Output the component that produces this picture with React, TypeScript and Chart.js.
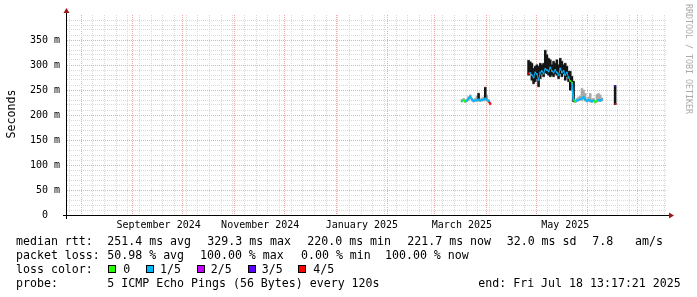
import React, { useEffect, useRef } from "react";
import { Chart, registerables } from "chart.js";

Chart.register(...registerables);

// ---------- time frame ----------
const DAY_MS = 86400000;
const END_TIME = Date.UTC(2025, 6, 18, 13, 17, 21);
const SPAN_DAYS = 360;
const START_TIME = END_TIME - SPAN_DAYS * DAY_MS;

// ---------- data ----------
const sampleTimes: string[] = [
  // March / April 2025
  "2025-03-17", "2025-03-18", "2025-03-19", "2025-03-20", "2025-03-21", "2025-03-22",
  "2025-03-23", "2025-03-24", "2025-03-25", "2025-03-26", "2025-03-27", "2025-03-28",
  "2025-03-29", "2025-03-30", "2025-03-31", "2025-04-01", "2025-04-02", "2025-04-03",
  // late April - May
  "2025-04-26", "2025-04-27", "2025-04-28", "2025-04-29", "2025-04-30", "2025-05-01",
  "2025-05-02", "2025-05-03", "2025-05-04", "2025-05-05", "2025-05-06", "2025-05-07",
  "2025-05-08", "2025-05-09", "2025-05-10", "2025-05-11", "2025-05-12", "2025-05-13",
  "2025-05-14", "2025-05-15", "2025-05-16", "2025-05-17", "2025-05-18", "2025-05-19",
  "2025-05-20", "2025-05-21", "2025-05-22", "2025-05-23",
  // late May - June
  "2025-05-24", "2025-05-25", "2025-05-26", "2025-05-27", "2025-05-28", "2025-05-29",
  "2025-05-30", "2025-05-31", "2025-06-01", "2025-06-02", "2025-06-03", "2025-06-04",
  "2025-06-05", "2025-06-06", "2025-06-07", "2025-06-08", "2025-06-09",
  // short burst
  "2025-06-17T10:00", "2025-06-17T14:00",
];

// median rtt (ms)
const medianMs: number[] = [
  228, 230, 227, 229, 233, 237, 231, 228, 229, 230, 231, 229, 230, 231, 233, 231, 228, 222,
  283, 284, 280, 275, 285, 282, 270, 285, 288, 283, 292, 290, 287, 295, 288, 285, 290, 285,
  280, 293, 285, 288, 280, 285, 275, 268, 265, 230,
  227, 229, 230, 232, 233, 236, 231, 228, 230, 229, 227, 229, 226, 228, 230, 229, 231,
  258, 222,
];

// packet loss (out of 5 pings)
const lossIndex: number[] = [
  1, 0, 0, 1, 1, 1, 1, 1, 1, 1, 1, 1, 1, 1, 1, 1, 1, 4,
  4, 1, 1, 1, 1, 1, 1, 1, 1, 1, 1, 1, 1, 1, 1, 1, 1, 1,
  1, 1, 1, 1, 1, 1, 1, 0, 0, 1,
  0, 1, 1, 1, 1, 1, 1, 1, 1, 1, 1, 1, 0, 0, 1, 1, 1,
  3, 4,
];

// smoke: full ping spread (ms)
const smokeLowMs: number[] = [
  226, 228, 225, 227, 229, 233, 228, 226, 227, 227, 228, 227, 228, 228, 229, 228, 225, 221,
  279, 282, 269, 262, 266, 272, 256, 272, 282, 276, 284, 282, 279, 276, 279, 276, 282, 279,
  272, 282, 276, 282, 269, 276, 266, 249, 256, 226,
  225, 227, 228, 229, 229, 231, 228, 226, 227, 226, 225, 227, 224, 226, 227, 227, 228,
  221, 221,
];
const smokeHighMs: number[] = [
  231, 233, 230, 232, 237, 240, 234, 231, 233, 238, 244, 232, 234, 236, 256, 240, 231, 226,
  310, 307, 304, 294, 298, 301, 298, 304, 301, 304, 330, 321, 314, 311, 301, 308, 304, 311,
  301, 314, 308, 301, 304, 298, 288, 288, 278, 268,
  230, 233, 236, 238, 253, 250, 243, 232, 236, 243, 232, 233, 229, 241, 243, 240, 234,
  259, 224,
];
// smoke: dense core of the pings (ms), null where there is none
const coreLowMs: (number | null)[] = [
  null, null, null, null, null, null, null, null, null, null, 230, null, null, null, 232, null, null, null,
  280, 283, 270, 263, 267, 273, 257, 273, 283, 277, 285, 283, 280, 277, 280, 277, 283, 280,
  273, 283, 277, 283, 270, 277, 267, 250, 257, 227,
  null, null, null, null, null, null, null, null, null, null, null, null, null, null, null, null, null,
  221, null,
];
const coreHighMs: (number | null)[] = [
  null, null, null, null, null, null, null, null, null, null, 243, null, null, null, 255, null, null, null,
  309, 306, 303, 293, 297, 300, 297, 303, 300, 303, 329, 320, 313, 310, 300, 307, 303, 310,
  300, 313, 307, 300, 303, 297, 287, 287, 277, 267,
  null, null, null, null, null, null, null, null, null, null, null, null, null, null, null, null, null,
  259, null,
];

const lossLabels: string[] = ["0", "1/5", "2/5", "3/5", "4/5"];
const lossColors: string[] = ["#26ff00", "#00b8ff", "#c800ff", "#5e00ff", "#ff0000"];

const yLabelValues: number[] = [0, 50, 100, 150, 200, 250, 300, 350];
const yLabelTexts: string[] = ["0  ", "50 m", "100 m", "150 m", "200 m", "250 m", "300 m", "350 m"];

const xLabelTimes: string[] = ["2024-09-16", "2024-11-16", "2025-01-16", "2025-03-17", "2025-05-18"];
const xLabelTexts: string[] = ["September 2024", "November 2024", "January 2025", "March 2025", "May 2025"];

const medianStats: string[] = ["251.4 ms avg", "329.3 ms max", "220.0 ms min", "221.7 ms now", "32.0 ms sd"];
const amsValue = "7.8";
const lossStats: string[] = ["50.98 % avg", "100.00 % max", "0.00 % min", "100.00 % now"];
const probeText = "5 ICMP Echo Pings (56 Bytes) every 120s";
const endText = "end: Fri Jul 18 13:17:21 2025";

// ---------- helpers ----------
const toDay = (s: string) => {
  const iso = s.length === 10 ? `${s}T12:00:00Z` : `${s}:00Z`;
  return (Date.parse(iso) - START_TIME) / DAY_MS;
};

const MONO = "'DejaVu Sans Mono', monospace";
const MAJOR_GRID = "#eeaaaa";
const MINOR_GRID = "#d9d9d9";
const ARROW = "#9a1a1a";

function buildXTicks() {
  const kinds = new Map<number, string>();
  let t = Date.UTC(2024, 6, 23);
  while (new Date(t).getUTCDay() !== 4) t += DAY_MS;
  for (; t < END_TIME; t += 7 * DAY_MS) {
    const d = (t - START_TIME) / DAY_MS;
    if (d > 0) kinds.set(d, "minor");
  }
  let y = 2024, m = 7;
  for (;;) {
    const mt = Date.UTC(y, m, 1);
    if (mt >= END_TIME) break;
    kinds.set((mt - START_TIME) / DAY_MS, "major");
    m++;
    if (m > 11) { m = 0; y++; }
  }
  const labels = new Map<number, string>();
  xLabelTimes.forEach((s, i) => {
    const d = toDay(s);
    kinds.set(d, "label");
    labels.set(d, xLabelTexts[i]);
  });
  const values = [...kinds.keys()].sort((a, b) => a - b);
  return { values, kinds, labels };
}

const rrdPlugin = {
  id: "rrdDecor",
  beforeDraw(chart: any) {
    const ctx = chart.ctx;
    ctx.save();
    ctx.fillStyle = "#ffffff";
    ctx.fillRect(0, 0, chart.width, chart.height);
    ctx.restore();
  },
  afterDraw(chart: any) {
    const ctx = chart.ctx as CanvasRenderingContext2D;
    const { left, right, top, bottom } = chart.chartArea;
    const ax = left - 0.5;
    const ay = bottom + 0.5;
    ctx.save();
    // axes
    ctx.strokeStyle = "#000";
    ctx.lineWidth = 1;
    ctx.beginPath();
    ctx.moveTo(left - 4, ay);
    ctx.lineTo(right + 2, ay);
    ctx.moveTo(ax, bottom + 4);
    ctx.lineTo(ax, top - 2);
    ctx.stroke();
    // arrows
    ctx.fillStyle = ARROW;
    ctx.beginPath();
    ctx.moveTo(right + 7, ay);
    ctx.lineTo(right + 2, ay - 3);
    ctx.lineTo(right + 2, ay + 3);
    ctx.closePath();
    ctx.fill();
    ctx.beginPath();
    ctx.moveTo(ax, top - 7);
    ctx.lineTo(ax - 3, top - 2);
    ctx.lineTo(ax + 3, top - 2);
    ctx.closePath();
    ctx.fill();

    // vertical axis title
    ctx.fillStyle = "#000";
    ctx.font = `11.6px ${MONO}`;
    ctx.save();
    ctx.translate(12, (top + bottom) / 2 - 1);
    ctx.rotate(-Math.PI / 2);
    ctx.textAlign = "center";
    ctx.textBaseline = "middle";
    ctx.fillText("Seconds", 0, 0);
    ctx.restore();

    // watermark
    ctx.save();
    ctx.fillStyle = "#aaaaaa";
    ctx.font = `8.3px ${MONO}`;
    ctx.translate(688.5, 4);
    ctx.rotate(Math.PI / 2);
    ctx.textAlign = "left";
    ctx.textBaseline = "middle";
    ctx.fillText("RRDTOOL / TOBI OETIKER", 0, 0);
    ctx.restore();

    // legend
    ctx.font = `11.6px ${MONO}`;
    ctx.fillStyle = "#000";
    ctx.textAlign = "left";
    ctx.textBaseline = "alphabetic";
    const rows = [245, 259, 273, 287];
    ctx.fillText("median rtt:", 16, rows[0]);
    const mx = [107.3, 207.3, 307.3, 407.3, 506.7];
    medianStats.forEach((s, i) => ctx.fillText(s, mx[i], rows[0]));
    ctx.fillText(amsValue, 592.3, rows[0]);
    ctx.fillText("am/s", 635, rows[0]);

    ctx.fillText("packet loss:", 16, rows[1]);
    const lx = [107.3, 200, 301, 385];
    lossStats.forEach((s, i) => ctx.fillText(s, lx[i], rows[1]));

    ctx.fillText("loss color:", 16, rows[2]);
    const bx = [108, 146, 197, 248, 298];
    const tx = [123.3, 160, 210.7, 261.7, 313.3];
    lossLabels.forEach((lab, i) => {
      ctx.fillStyle = lossColors[i];
      ctx.fillRect(bx[i], 265, 8, 8);
      ctx.strokeStyle = "#000";
      ctx.strokeRect(bx[i] + 0.5, 265.5, 7, 7);
      ctx.fillStyle = "#000";
      ctx.fillText(lab, tx[i], rows[2]);
    });

    ctx.fillText("probe:", 16, rows[3]);
    ctx.fillText(probeText, 107.3, rows[3]);
    ctx.fillText(endText, 478.3, rows[3]);
    ctx.restore();
  },
};

export default function App() {
  const ref = useRef<HTMLCanvasElement | null>(null);

  useEffect(() => {
    if (!ref.current) return;
    const { values: xTickValues, kinds, labels } = buildXTicks();

    const lineData: { x: number; y: number | null }[] = [];
    const lineLoss: number[] = [];
    let prev: number | null = null;
    sampleTimes.forEach((s, i) => {
      const x = toDay(s);
      if (prev !== null && x - prev > 1.5) {
        lineData.push({ x: (x + prev) / 2, y: null });
        lineLoss.push(0);
      }
      lineData.push({ x, y: medianMs[i] });
      lineLoss.push(lossIndex[i]);
      prev = x;
    });

    const smokeData = sampleTimes.map((s, i) => ({ x: toDay(s), y: [smokeLowMs[i], smokeHighMs[i]] }));
    const coreData = sampleTimes
      .map((s, i) => ({ x: toDay(s), lo: coreLowMs[i], hi: coreHighMs[i] }))
      .filter((p) => p.lo !== null && p.hi !== null)
      .map((p) => ({ x: p.x, y: [p.lo as number, p.hi as number] }));

    const yTickValues: number[] = [];
    for (let v = 0; v < 400; v += 10) yTickValues.push(v);
    const yLabelMap = new Map<number, string>();
    yLabelValues.forEach((v, i) => yLabelMap.set(v, yLabelTexts[i]));

    const chart = new Chart(ref.current, {
      type: "line",
      data: {
        datasets: [
          {
            type: "line",
            data: lineData as any,
            borderColor: lossColors[1],
            borderWidth: 1.8,
            spanGaps: false,
            tension: 0,
            pointRadius: 1.2,
            pointStyle: "rect",
            pointBorderWidth: 0,
            pointBackgroundColor: (c: any) => lossColors[lineLoss[c.dataIndex]] ?? lossColors[1],
            segment: {
              borderColor: (c: any) =>
                Math.abs(c.p1.x - c.p0.x) < 1 ? "rgba(0,0,0,0)" : lossColors[lineLoss[c.p1DataIndex]],
              borderWidth: (c: any) =>
                c.p0.parsed.y > 250 && c.p1.parsed.y > 250 ? 1 : 1.8,
            },
          } as any,
          {
            type: "bar",
            data: coreData as any,
            backgroundColor: "#151515",
            borderWidth: 0,
            barThickness: 1.8,
            grouped: false,
          } as any,
          {
            type: "bar",
            data: smokeData as any,
            backgroundColor: "#a8a8a8",
            borderWidth: 0,
            barThickness: 1.8,
            grouped: false,
          } as any,
        ],
      },
      options: {
        animation: false,
        responsive: false,
        devicePixelRatio: 1,
        events: [],
        layout: { padding: { left: 0, right: 30, top: 15, bottom: 0 } },
        plugins: { legend: { display: false }, tooltip: { enabled: false } },
        scales: {
          x: {
            type: "linear",
            min: 0,
            max: SPAN_DAYS,
            offset: false,
            afterBuildTicks: (s: any) => {
              s.ticks = xTickValues.map((v) => ({ value: v }));
            },
            afterFit: (s: any) => {
              s.height = 82;
              s.paddingLeft = 0;
              s.paddingRight = 0;
            },
            grid: {
              offset: false,
              drawTicks: false,
              lineWidth: 1,
              color: (c: any) => {
                const k = c.tick ? kinds.get(c.tick.value) : undefined;
                if (k === "major") return MAJOR_GRID;
                if (k === "minor") return MINOR_GRID;
                return "rgba(0,0,0,0)";
              },
            },
            border: { display: false, dash: [1, 1] },
            ticks: {
              autoSkip: false,
              maxRotation: 0,
              minRotation: 0,
              padding: 4,
              color: "#000",
              font: { family: MONO, size: 10 },
              callback: (v: any) => labels.get(v) ?? "",
            },
          } as any,
          y: {
            type: "linear",
            min: 0,
            max: 400,
            afterBuildTicks: (s: any) => {
              s.ticks = yTickValues.map((v) => ({ value: v }));
            },
            afterFit: (s: any) => {
              s.width = 67;
              s.paddingTop = 0;
              s.paddingBottom = 0;
            },
            grid: {
              drawTicks: false,
              lineWidth: 1,
              color: (c: any) => {
                const v = c.tick ? c.tick.value : 0;
                if (v === 0) return "rgba(0,0,0,0)";
                return v % 50 === 0 ? MAJOR_GRID : MINOR_GRID;
              },
            },
            border: { display: false, dash: [1, 1] },
            ticks: {
              autoSkip: false,
              padding: 7,
              color: "#000",
              font: { family: MONO, size: 10 },
              callback: (v: any) => yLabelMap.get(v) ?? "",
            },
          } as any,
        },
      },
      plugins: [rrdPlugin],
    });
    return () => chart.destroy();
  }, []);

  return (
    <div style={{ position: "fixed", left: 0, top: 0, width: 697, height: 297, background: "#fff" }}>
      <canvas ref={ref} width={697} height={297} style={{ width: 697, height: 297, display: "block" }} />
    </div>
  );
}
